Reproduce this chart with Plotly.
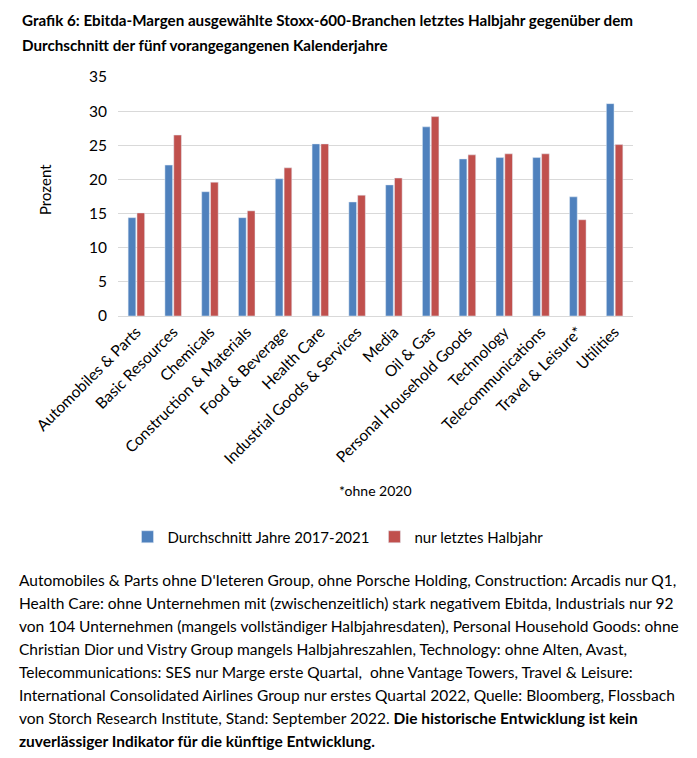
import plotly.graph_objects as go

categories = ["Automobiles & Parts", "Basic Resources", "Chemicals", "Construction & Materials",
              "Food & Beverage", "Health Care", "Industrial Goods & Services", "Media", "Oil & Gas",
              "Personal Household Goods", "Technology", "Telecommunications", "Travel & Leisure*",
              "Utilities"]
avg_2017_2021 = [14.4, 22.1, 18.2, 14.4, 20.1, 25.2, 16.7, 19.2, 27.7, 23.0, 23.2, 23.2, 17.45, 31.1]
last_half = [15.1, 26.5, 19.6, 15.4, 21.7, 25.2, 17.7, 20.2, 29.2, 23.6, 23.75, 23.75, 14.1, 25.1]
y_ticks = [0, 5, 10, 15, 20, 25, 30, 35]

title_lines = ["Grafik 6: Ebitda-Margen ausgewählte Stoxx-600-Branchen letztes Halbjahr gegenüber dem",
               "Durchschnitt der fünf vorangegangenen Kalenderjahre"]
footnote_lines = [
    "Automobiles & Parts ohne D'Ieteren Group, ohne Porsche Holding, Construction: Arcadis nur Q1,",
    "Health Care: ohne Unternehmen mit (zwischenzeitlich) stark negativem Ebitda, Industrials nur 92",
    "von 104 Unternehmen (mangels vollständiger Halbjahresdaten), Personal Household Goods: ohne",
    "Christian Dior und Vistry Group mangels Halbjahreszahlen, Technology: ohne Alten, Avast,",
    "Telecommunications: SES nur Marge erste Quartal,  ohne Vantage Towers, Travel & Leisure:",
    "International Consolidated Airlines Group nur erstes Quartal 2022, Quelle: Bloomberg, Flossbach",
    "von Storch Research Institute, Stand: September 2022. <b>Die historische Entwicklung ist kein</b>",
    "<b>zuverlässiger Indikator für die künftige Entwicklung.</b>",
]

OFF = 8  # page body margin
W, H = 697 - 2 * OFF, 758 - 2 * OFF
L, T = 118 - OFF, 77 - OFF
R = W - (633 - OFF)
B = H - (316 - OFF)
FONT = "Lato, Roboto, sans-serif"

def px_to_paper(x, y):
    x, y = x - OFF, y - OFF
    return (x - L) / (W - L - R), (H - B - y) / (H - T - B)

fig = go.Figure()
fig.add_trace(go.Bar(x=categories, y=avg_2017_2021, name="Durchschnitt Jahre 2017-2021",
                     marker_color="#4F81BD"))
fig.add_trace(go.Bar(x=categories, y=last_half, name="nur letztes Halbjahr",
                     marker_color="#C0504D"))

ann = []
for i, line in enumerate(title_lines):
    x, y = px_to_paper(20, 20 + 25 * i)
    ann.append(dict(text="<b>" + line + "</b>", x=x, y=y, xref="paper", yref="paper",
                    xanchor="left", yanchor="middle", showarrow=False,
                    font=dict(family=FONT, size=15.2, color="#000")))
for i, line in enumerate(footnote_lines):
    x, y = px_to_paper(17, 580 + 23.0 * i)
    ann.append(dict(text=line, x=x, y=y, xref="paper", yref="paper",
                    xanchor="left", yanchor="middle", showarrow=False,
                    font=dict(family=FONT, size=15.5, color="#000")))
x, y = px_to_paper(375, 490)
ann.append(dict(text="*ohne 2020", x=x, y=y, xref="paper", yref="paper",
                xanchor="center", yanchor="middle", showarrow=False,
                font=dict(family=FONT, size=14, color="#000")))
x, y = px_to_paper(45, 190)
ann.append(dict(text="Prozent", x=x, y=y, xref="paper", yref="paper", textangle=-90,
                xanchor="center", yanchor="middle", showarrow=False,
                font=dict(family=FONT, size=15, color="#000")))

lx, ly = px_to_paper(338, 537)
fig.update_layout(
    width=W, height=H, margin=dict(l=L, r=R, t=T, b=B),
    paper_bgcolor="white", plot_bgcolor="white",
    barmode="group", bargap=0.52, bargroupgap=0.13,
    font=dict(family=FONT, size=14, color="#000"),
    showlegend=True,
    legend=dict(orientation="h", x=lx, y=ly, xanchor="center", yanchor="middle",
                font=dict(family=FONT, size=15), itemwidth=30, tracegroupgap=0),
    annotations=ann,
    xaxis=dict(tickangle=-45, showline=True, linecolor="#d9d9d9", ticks="",
               tickfont=dict(family=FONT, size=15.5)),
    yaxis=dict(range=[0, 35], tickvals=y_ticks, showgrid=True, gridcolor="#d9d9d9",
               zeroline=False, ticks="", ticklabelstandoff=10, tickfont=dict(family=FONT, size=15.5)),
)
fig.write_html("out.html")
